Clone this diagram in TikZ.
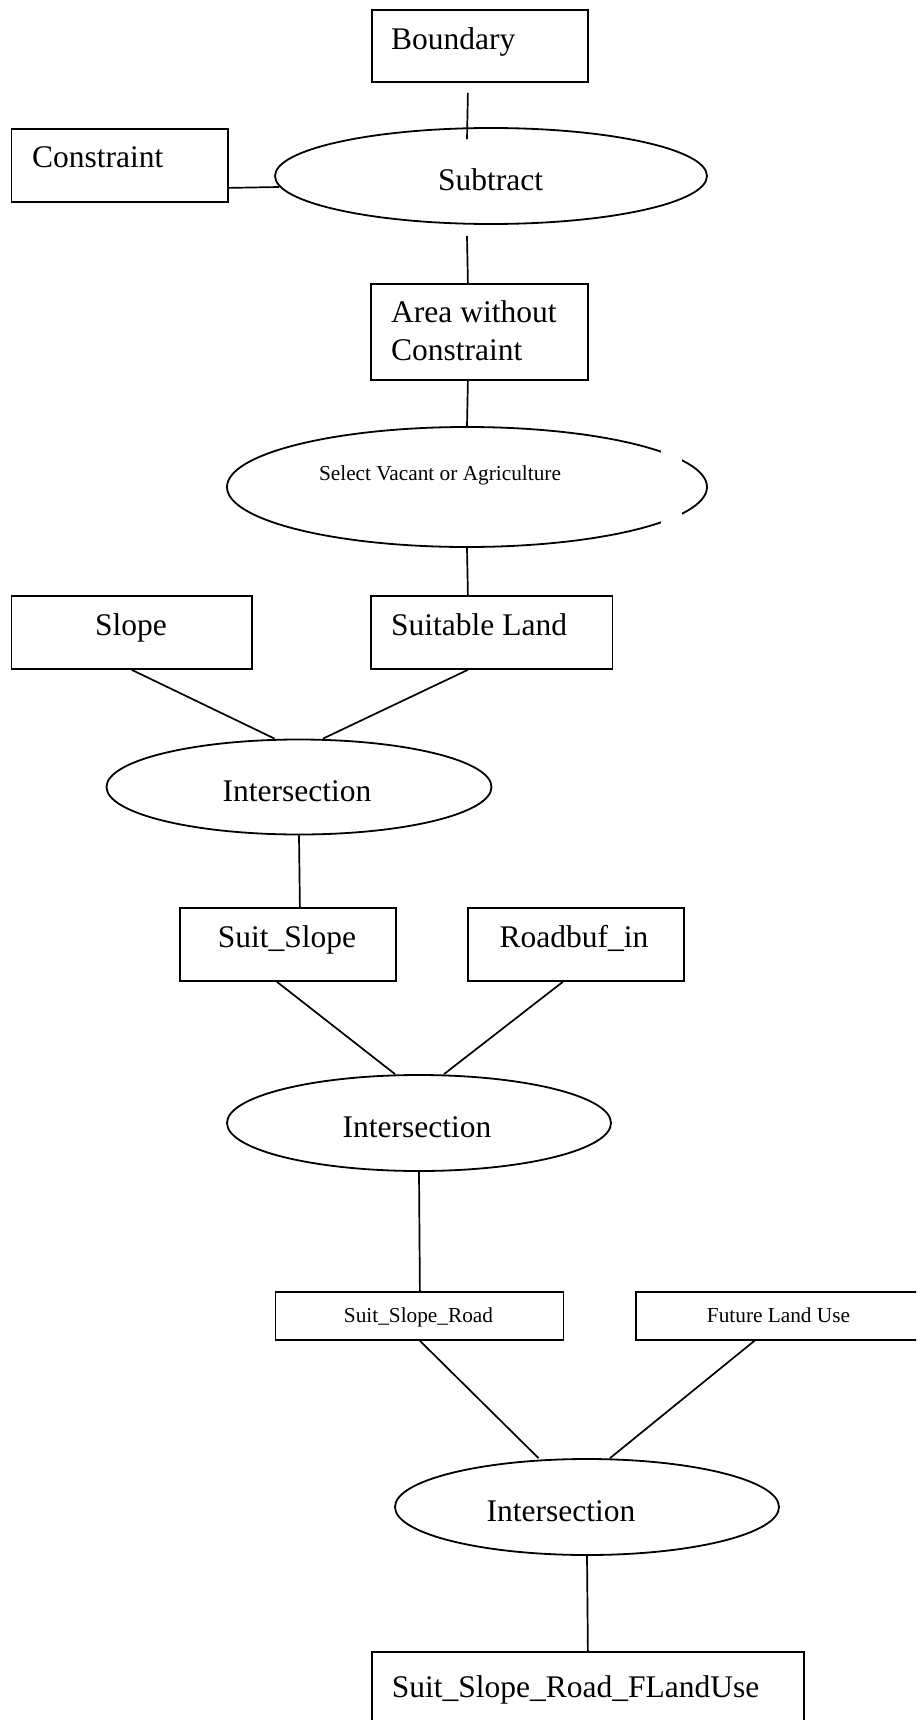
\documentclass[tikz,border=0pt]{standalone}
\usepackage{fontspec}
\setmainfont{Liberation Serif}
\usetikzlibrary{shapes.geometric,calc}
\tikzset{
  box/.style={draw, rectangle, line width=1.8pt, inner sep=0pt, anchor=north west},
  oval/.style={draw, ellipse, line width=1.8pt, inner sep=0pt},
  big/.style={inner sep=0pt, font=\fontsize{31.5}{38}\selectfont},
  small/.style={inner sep=0pt, font=\fontsize{21.3}{26}\selectfont},
  link/.style={line width=1.7pt}
}
\begin{document}
\begin{tikzpicture}[x=1pt,y=-1pt]
\clip (0,0) rectangle (916,1720);
\fill[white] (0,0) rectangle (916,1720);
% boxes
\node[box, minimum width=216pt, minimum height=72pt] (bnd) at (371,9) {};
\node[box, minimum width=216.5pt, minimum height=73pt] (con) at (10.5,128) {};
\node[box, minimum width=217pt, minimum height=96pt] (area) at (370,283) {};
\node[box, minimum width=240.5pt, minimum height=73pt] (slope) at (10.5,595) {};
\node[box, minimum width=241.5pt, minimum height=73pt] (suit) at (370,595) {};
\node[box, minimum width=216pt, minimum height=73pt] (ss) at (179,907) {};
\node[box, minimum width=216pt, minimum height=73pt] (rb) at (467,907) {};
\node[box, minimum width=288pt, minimum height=48pt] (ssr) at (274.5,1291) {};
\node[box, minimum width=300pt, minimum height=48pt] (flu) at (635,1291) {};
\node[box, minimum width=432pt, minimum height=100pt] (fin) at (371,1651) {};
% ellipses
\node[oval, minimum width=432pt, minimum height=96pt] (sub) at (491,176) {};
\node[oval, minimum width=480pt, minimum height=120pt] (sel) at (467,487) {};
\node[oval, minimum width=385pt, minimum height=95pt] (i1) at (299,787) {};
\node[oval, minimum width=384pt, minimum height=96pt] (i2) at (419,1123) {};
\node[oval, minimum width=384pt, minimum height=96pt] (i3) at (587,1507) {};
% gap in the select ellipse
\fill[white] (661,425) rectangle (682,552);
% texts
\node[big, anchor=base west] (tbnd) at (391,49.3) {Boundary};
\node[big, anchor=base west] (tcon) at (32,168) {Constraint};
\node[big, anchor=base] (tsub) at (490.6,190.7) {Subtract};
\node[big, anchor=base west] (tarea1) at (391,322) {Area without};
\node[big, anchor=base west] (tarea2) at (391,360) {Constraint};
\node[small, anchor=base] (tsel) at (440,480.7) {Select Vacant or Agriculture};
\node[big, anchor=base] (tslope) at (131,635) {Slope};
\node[big, anchor=base west] (tsuit) at (391,635) {Suitable Land};
\node[big, anchor=base] (ti1) at (297,801.7) {Intersection};
\node[big, anchor=base] (tss) at (287,947) {Suit\_Slope};
\node[big, anchor=base] (trb) at (574,947) {Roadbuf\_in};
\node[big, anchor=base] (ti2) at (417,1137) {Intersection};
\node[small, anchor=base] (tssr) at (418.5,1322) {Suit\_Slope\_Road};
\node[small, anchor=base] (tflu) at (778.5,1322) {Future Land Use};
\node[big, anchor=base] (ti3) at (561,1521.7) {Intersection};
\node[big, anchor=base west] (tfin) at (391.7,1697) {Suit\_Slope\_Road\_FLandUse};
% connectors
\draw[link] ($(bnd.south)+(-12,10)$) -- ($(sub.north)+(-24,12)$);
\draw[link] ($(con.east)+(0,22.5)$) -- ($(sub.west)+(5,11)$);
\draw[link] ($(sub.south)+(-24,11)$) -- ($(area.north)+(-11.5,0)$);
\draw[link] ($(area.south)+(-11.5,0)$) -- (sel.north);
\draw[link] (sel.south) -- ($(suit.north)+(-23.75,0)$);
\draw[link] (slope.south) -- ($(i1.north)+(-24.5,0)$);
\draw[link] ($(suit.south)+(-23.75,0)$) -- ($(i1.north)+(24,0)$);
\draw[link] (i1.south) -- ($(ss.north)+(12,0)$);
\draw[link] ($(ss.south)+(-11,0)$) -- ($(i2.north)+(-24,0)$);
\draw[link] ($(rb.south)+(-13,0)$) -- ($(i2.north)+(25,0)$);
\draw[link] (i2.south) -- ($(ssr.north)+(0.5,0)$);
\draw[link] ($(ssr.south)+(0.5,0)$) -- ($(i3.north)+(-48.5,0)$);
\draw[link] ($(flu.south)+(-31.5,0)$) -- ($(i3.north)+(23,0)$);
\draw[link] (i3.south) -- (fin.north);
\end{tikzpicture}
\end{document}
